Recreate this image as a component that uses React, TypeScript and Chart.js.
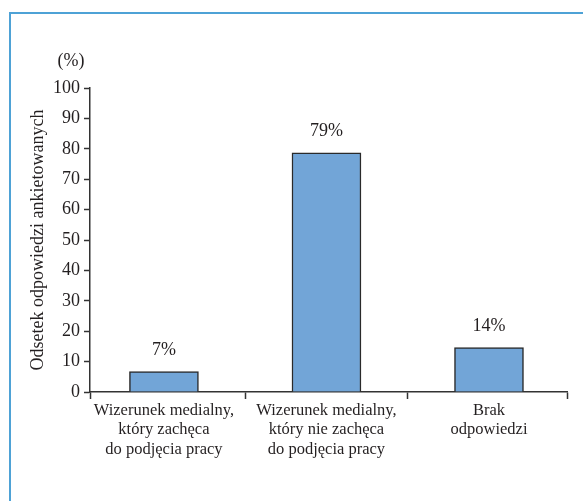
import React, { useEffect, useRef } from "react";
import { Chart, registerables } from "chart.js";

Chart.register(...registerables);

const categories: string[][] = [
  ["Wizerunek medialny,", "który zachęca", "do podjęcia pracy"],
  ["Wizerunek medialny,", "który nie zachęca", "do podjęcia pracy"],
  ["Brak", "odpowiedzi"],
];
const values: number[] = [6.7, 78.7, 14.6];
const valueLabels: string[] = ["7%", "79%", "14%"];
const yTitle = "Odsetek odpowiedzi ankietowanych";
const unitLabel = "(%)";

const FONT = "'Liberation Serif', 'Times New Roman', serif";
const TEXT = "#231f20";
const AXIS = "#333333";
const X_MIN = -0.455;
const X_MAX = 2.48;

export default function App() {
  const ref = useRef<HTMLCanvasElement | null>(null);

  useEffect(() => {
    const canvas = ref.current;
    if (!canvas) return;

    const labelPlugin = {
      id: "valueLabels",
      afterDatasetsDraw(chart: any) {
        const ctx = chart.ctx;
        const meta = chart.getDatasetMeta(0);
        ctx.save();
        ctx.font = `18px ${FONT}`;
        ctx.fillStyle = TEXT;
        ctx.textAlign = "center";
        ctx.textBaseline = "middle";
        meta.data.forEach((el: any, i: number) => {
          ctx.fillText(valueLabels[i], el.x, el.y - 21);
        });
        ctx.restore();
      },
      afterDraw(chart: any) {
        const ctx = chart.ctx;
        const ys = chart.scales.y;
        ctx.save();
        ctx.font = `18px ${FONT}`;
        ctx.fillStyle = TEXT;
        ctx.textAlign = "center";
        ctx.textBaseline = "middle";
        ctx.fillText(unitLabel, ys.right - 19, ys.top - 27);
        ctx.restore();
      },
    };

    const chart = new Chart(canvas, {
      type: "bar",
      data: {
        datasets: [
          {
            data: values.map((v, i) => ({ x: i, y: v })),
            backgroundColor: "#72a5d7",
            borderColor: "#2a2a2a",
            borderWidth: 1.5,
            barThickness: 69,
          },
        ],
      },
      plugins: [labelPlugin],
      options: {
        animation: false,
        responsive: false,
        devicePixelRatio: 1,
        layout: { padding: { top: 88, right: 16, bottom: 0, left: 0 } },
        plugins: {
          legend: { display: false },
          tooltip: { enabled: false },
        },
        scales: {
          x: {
            type: "linear",
            min: X_MIN,
            max: X_MAX,
            offset: false,
            afterBuildTicks: (scale: any) => {
              scale.ticks = [X_MIN, 0, 0.5, 1, 1.5, 2, X_MAX].map((v) => ({ value: v }));
            },
            afterFit: (scale: any) => {
              scale.height = 109;
            },
            border: { display: true, color: AXIS, width: 1.5 },
            grid: {
              offset: false,
              drawOnChartArea: false,
              drawTicks: true,
              tickLength: 7,
              tickWidth: 1.5,
              tickColor: (ctx: any) =>
                ctx.tick && Number.isInteger(ctx.tick.value) ? "rgba(0,0,0,0)" : AXIS,
            },
            ticks: {
              autoSkip: false,
              maxRotation: 0,
              minRotation: 0,
              padding: 2,
              color: TEXT,
              font: { family: FONT, size: 16.5, lineHeight: 1.17 },
              callback: (value: any) => {
                const v = Number(value);
                return Number.isInteger(v) && v >= 0 && v < categories.length ? categories[v] : "";
              },
            },
          },
          y: {
            min: 0,
            max: 100,
            afterFit: (scale: any) => {
              scale.width = 90;
            },
            border: { display: true, color: AXIS, width: 1.5 },
            grid: {
              drawOnChartArea: false,
              drawTicks: true,
              tickLength: 6,
              tickWidth: 1.5,
              tickColor: AXIS,
            },
            ticks: {
              stepSize: 10,
              padding: 4,
              color: TEXT,
              font: { family: FONT, size: 18 },
            },
            title: {
              display: true,
              text: yTitle,
              color: TEXT,
              font: { family: FONT, size: 18 },
              padding: { top: 27, bottom: 0 },
            },
          },
        },
      },
    } as any);

    return () => chart.destroy();
  }, []);

  return (
    <div
      style={{
        position: "fixed",
        left: 0,
        top: 0,
        width: 583,
        height: 501,
        overflow: "hidden",
        background: "#ffffff",
      }}
    >
      <div
        style={{
          position: "absolute",
          left: 9,
          top: 12,
          width: 640,
          height: 560,
          border: "2px solid #4ea2d6",
          boxSizing: "border-box",
        }}
      />
      <canvas
        ref={ref}
        width={583}
        height={501}
        style={{ position: "absolute", left: 0, top: 0, width: 583, height: 501 }}
      />
    </div>
  );
}
